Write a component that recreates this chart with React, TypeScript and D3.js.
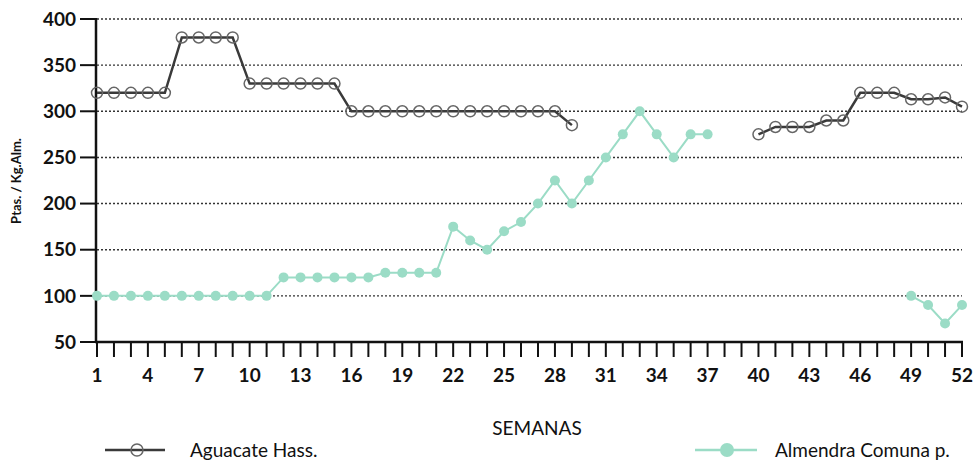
import React from "react";
import * as d3 from "d3";

const weeks: number[] = d3.range(1, 53);
const aguacate: (number | null)[] = [
  320, 320, 320, 320, 320, 380, 380, 380, 380, 330, 330, 330, 330, 330, 330,
  300, 300, 300, 300, 300, 300, 300, 300, 300, 300, 300, 300, 300, 285,
  null, null, null, null, null, null, null, null, null, null,
  275, 283, 283, 283, 290, 290, 320, 320, 320, 313, 313, 315, 305,
];
const almendra: (number | null)[] = [
  100, 100, 100, 100, 100, 100, 100, 100, 100, 100, 100,
  120, 120, 120, 120, 120, 120, 125, 125, 125, 125,
  175, 160, 150, 170, 180, 200, 225, 200, 225, 250, 275, 300, 275, 250, 275, 275,
  null, null, null, null, null, null, null, null, null, null, null,
  100, 90, 70, 90,
];
const yTicks: number[] = [50, 100, 150, 200, 250, 300, 350, 400];
const xTickLabels: number[] = [1, 4, 7, 10, 13, 16, 19, 22, 25, 28, 31, 34, 37, 40, 43, 46, 49, 52];
const seriesNames = ["Aguacate Hass.", "Almendra Comuna p."];
const yTitle = "Ptas. / Kg.Alm.";
const xTitle = "SEMANAS";

export default function App() {
  const W = 979, H = 461;
  const x = d3.scaleLinear().domain([1, 52]).range([97, 962]);
  const y = d3.scaleLinear().domain([50, 400]).range([342, 19]);
  const darkCol = "#3a3a3a";
  const tealCol = "#9bdcc6";
  const font = "Lato, 'Open Sans', sans-serif";

  const line = d3
    .line<number | null>()
    .defined((d) => d !== null)
    .x((_, i) => x(weeks[i]))
    .y((d) => y(d as number));

  return (
    <svg width={W} height={H} style={{ position: "absolute", left: 0, top: 0, background: "#fff" }}>
      {/* gridlines */}
      {yTicks.filter((t) => t > 50).map((t) => (
        <line key={"g" + t} x1={x(1)} x2={x(52)} y1={y(t)} y2={y(t)} stroke="#333" strokeWidth={1.4} strokeDasharray="2,2" />
      ))}
      {/* y axis */}
      <line x1={x(1) - 1} x2={x(1) - 1} y1={y(400) - 1} y2={y(50) + 1} stroke="#111" strokeWidth={2.5} />
      {yTicks.map((t) => (
        <g key={"yt" + t}>
          <line x1={80} x2={x(1) - 1} y1={y(t)} y2={y(t)} stroke="#111" strokeWidth={2} />
          <text x={76} y={y(t)} dy="0.35em" textAnchor="end" fontFamily={font} fontWeight={700} fontSize={19} fill="#111">{t}</text>
        </g>
      ))}
      {/* x axis */}
      <line x1={x(1) - 2} x2={x(52) + 1} y1={y(50)} y2={y(50)} stroke="#111" strokeWidth={2.5} />
      {weeks.map((w) => (
        <line key={"xt" + w} x1={x(w)} x2={x(w)} y1={y(50)} y2={y(50) + 15} stroke="#111" strokeWidth={2} />
      ))}
      {xTickLabels.map((w) => (
        <text key={"xl" + w} x={x(w)} y={375} dy="0.35em" textAnchor="middle" fontFamily={font} fontWeight={700} fontSize={19} fill="#111">{w}</text>
      ))}
      {/* titles */}
      <text transform={`translate(21,181) rotate(-90)`} textAnchor="middle" fontFamily={font} fontWeight={700} fontSize={13} fill="#111">{yTitle}</text>
      <text x={537} y={428} dy="0.35em" textAnchor="middle" fontFamily={font} fontSize={19} fill="#111">{xTitle}</text>

      {/* Almendra series */}
      <path d={line(almendra) || ""} fill="none" stroke={tealCol} strokeWidth={2} />
      {almendra.map((v, i) => v === null ? null : (
        <circle key={"am" + i} cx={x(weeks[i])} cy={y(v)} r={5} fill={tealCol} />
      ))}
      {/* Aguacate series */}
      <path d={line(aguacate) || ""} fill="none" stroke={darkCol} strokeWidth={2.5} />
      {aguacate.map((v, i) => v === null ? null : (
        <circle key={"ag" + i} cx={x(weeks[i])} cy={y(v)} r={5.5} fill="none" stroke="#666" strokeWidth={1.5} />
      ))}

      {/* legend */}
      <line x1={105} x2={165} y1={450} y2={450} stroke={darkCol} strokeWidth={2.5} />
      <circle cx={137} cy={450} r={6} fill="none" stroke="#666" strokeWidth={1.5} />
      <text x={190} y={450} dy="0.35em" fontFamily={font} fontSize={19} fill="#111">{seriesNames[0]}</text>
      <line x1={695} x2={757} y1={450} y2={450} stroke={tealCol} strokeWidth={2.5} />
      <circle cx={727} cy={450} r={7} fill={tealCol} />
      <text x={775} y={450} dy="0.35em" fontFamily={font} fontSize={19} fill="#111">{seriesNames[1]}</text>
    </svg>
  );
}
